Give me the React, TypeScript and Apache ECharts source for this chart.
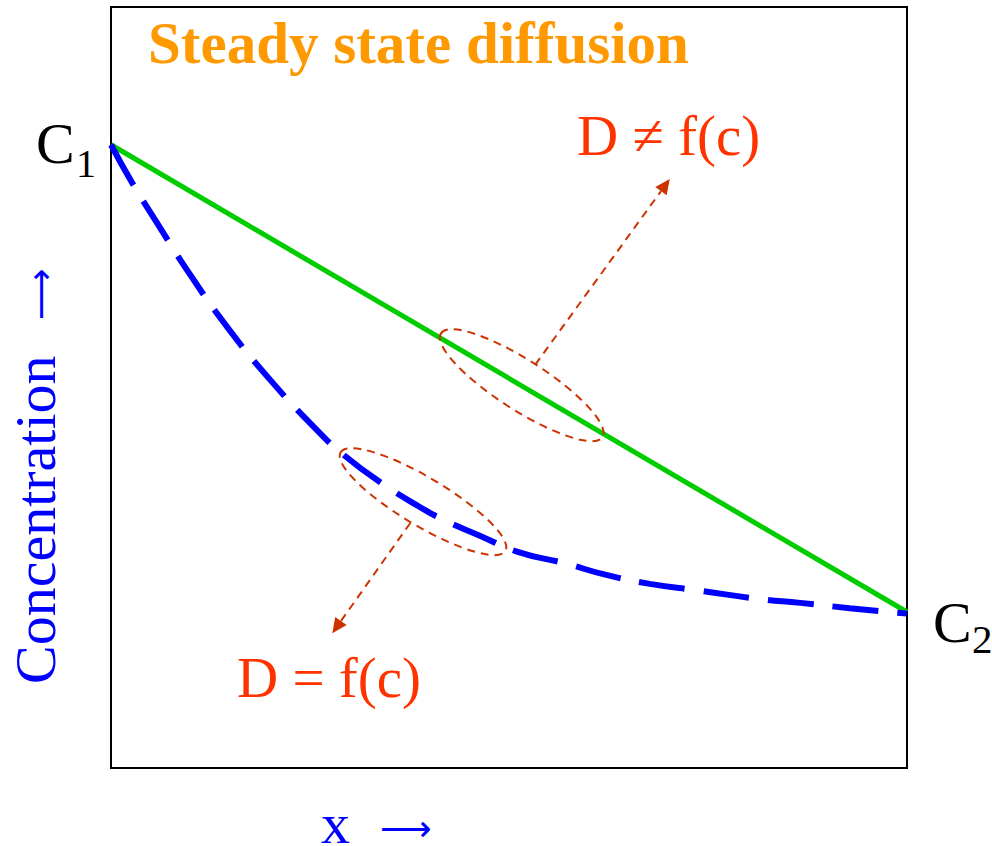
import React, { useEffect, useRef } from "react";
import * as echarts from "echarts";

// Data (x: distance 0..10, y: concentration 0..10)
const linearX = [0, 10];
const linearY = [8.19, 2.05];
const curveX = [0, 0.26, 0.55, 0.99, 1.47, 2.0, 2.56, 2.94, 3.42, 3.88, 4.16, 4.64, 5.11, 5.7, 6.21, 6.77, 7.4, 8.15, 8.66, 9.28, 10];
const curveY = [8.19, 7.7, 7.21, 6.49, 5.78, 5.1, 4.47, 4.1, 3.73, 3.43, 3.27, 3.05, 2.84, 2.69, 2.54, 2.42, 2.33, 2.22, 2.17, 2.1, 2.03];
// Annotation anchors in data coordinates
const ellipseCenters = [[5.16, 5.03], [3.92, 3.5]];
const arrowStarts = [[5.33, 5.3], [3.76, 3.22]];
const arrowEnds = [[7.02, 7.74], [2.78, 1.77]];

const SERIF = "'Liberation Serif', 'Times New Roman', serif";
const ARROWFONT = "'DejaVu Sans', sans-serif";
const RED = "#cc3300";

export default function App() {
  const ref = useRef<HTMLDivElement>(null);
  useEffect(() => {
    if (!ref.current) return;
    const chart = echarts.init(ref.current, null, { renderer: "svg" });
    chart.setOption({
      animation: false,
      grid: { left: 111, right: 85, top: 7, bottom: 78, show: true, borderColor: "#000", borderWidth: 2, backgroundColor: "transparent" },
      xAxis: { type: "value", min: 0, max: 10, axisLine: { show: false }, axisTick: { show: false }, axisLabel: { show: false }, splitLine: { show: false } },
      yAxis: { type: "value", min: 0, max: 10, axisLine: { show: false }, axisTick: { show: false }, axisLabel: { show: false }, splitLine: { show: false } },
      series: [
        {
          type: "line",
          data: linearX.map((x, i) => [x, linearY[i]]),
          symbol: "none",
          lineStyle: { color: "#00cc00", width: 5 },
          z: 2,
        },
        {
          type: "line",
          data: curveX.map((x, i) => [x, curveY[i]]),
          symbol: "none",
          smooth: true,
          lineStyle: { color: "#0000ff", width: 6, type: [46, 19], cap: "butt" },
          z: 3,
        },
      ],
    });

    const toPx = (p: number[]) => chart.convertToPixel({ gridIndex: 0 }, p) as number[];
    const rot = [-0.571, -0.54];
    const graphics: any[] = [];
    ellipseCenters.forEach((c, i) => {
      const p = toPx(c);
      graphics.push({
        type: "ellipse",
        x: p[0],
        y: p[1],
        rotation: rot[i],
        shape: { cx: 0, cy: 0, rx: 96, ry: i === 0 ? 25 : 24 },
        style: { fill: "none", stroke: RED, lineWidth: 2, lineDash: [8, 6] },
        z: 10,
      });
    });
    arrowStarts.forEach((s, i) => {
      const a = toPx(s);
      const b = toPx(arrowEnds[i]);
      const dx = b[0] - a[0];
      const dy = b[1] - a[1];
      const L = Math.hypot(dx, dy);
      const ux = dx / L;
      const uy = dy / L;
      const hl = 15;
      const hw = 7;
      const base = [b[0] - ux * hl, b[1] - uy * hl];
      graphics.push({
        type: "line",
        shape: { x1: a[0], y1: a[1], x2: base[0], y2: base[1] },
        style: { stroke: RED, lineWidth: 2, lineDash: [8, 6] },
        z: 10,
      });
      graphics.push({
        type: "polygon",
        shape: { points: [b, [base[0] - uy * hw, base[1] + ux * hw], [base[0] + uy * hw, base[1] - ux * hw]] },
        style: { fill: RED },
        z: 10,
      });
    });
    const txt = (text: string, x: number, y: number, size: number, color: string, extra: any = {}) => ({
      type: "text",
      x,
      y,
      z: 20,
      ...extra,
      style: { text, fontSize: size, fontFamily: SERIF, fill: color, align: "left", verticalAlign: "middle", ...(extra.style || {}) },
    });
    graphics.push(txt("Steady state diffusion", 148, 43, 59, "#ff9900", { style: { fontWeight: "bold" } }));
    graphics.push(txt("C", 36, 143, 58, "#000"));
    graphics.push(txt("1", 76, 163, 40, "#000"));
    graphics.push(txt("C", 933, 622, 58, "#000"));
    graphics.push(txt("2", 972, 639, 41, "#000", { style: { lineHeight: 30 } }));
    graphics.push(txt("D \u2260 f(c)", 577, 135, 57, "#ff3300"));
    graphics.push(txt("D = f(c)", 237, 677, 57, "#ff3300"));
    graphics.push(txt("x", 321, 823, 58, "#0000ff", { style: { lineHeight: 40 } }));
    graphics.push(txt("\u27f6", 380, 828, 36, "#0000ff", { style: { fontFamily: ARROWFONT, lineHeight: 30 } }));
    graphics.push(txt("Concentration", 35, 684, 58, "#0000ff", { rotation: Math.PI / 2 }));
    graphics.push(txt("\u27f6", 40, 320, 36, "#0000ff", { rotation: Math.PI / 2, style: { fontFamily: ARROWFONT, lineHeight: 30 } }));
    chart.setOption({ graphic: graphics });

    return () => chart.dispose();
  }, []);
  return <div ref={ref} style={{ position: "absolute", left: 0, top: 0, width: 992, height: 846 }} />;
}
